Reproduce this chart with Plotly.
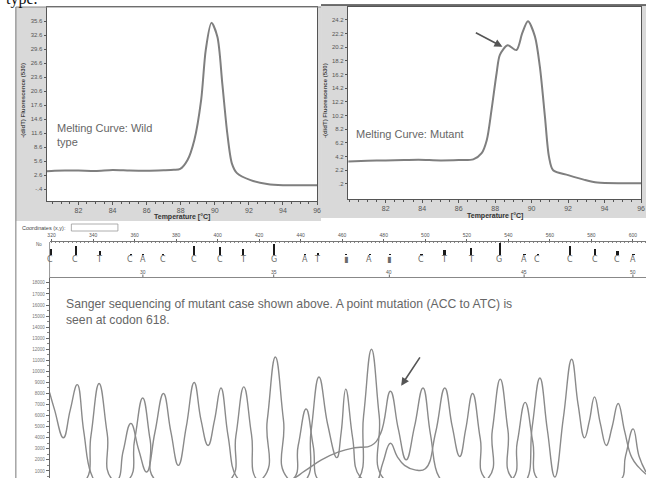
import plotly.graph_objects as go

W, H = 650, 478


def px(x):
    return x / W


def py(y):
    return 1 - y / H


# ---------------- data ----------------
# Melting curve: wild type
wt_temp = [80.13, 80.6, 81.2, 82.0, 83.0, 84.0, 85.0, 86.0, 87.0, 87.6, 87.97, 88.4, 88.8, 89.2,
           89.47, 89.8, 90.15, 90.44, 90.73, 91.0, 91.3, 92.1, 93.07, 94.0, 95.0, 96.0]
wt_fluor = [3.4, 3.5, 3.55, 3.55, 3.45, 3.67, 3.55, 3.5, 3.6, 3.7, 3.9, 5.8, 10.1, 18.7,
            29.4, 35.2, 32.2, 22.2, 11.6, 5.1, 3.0, 1.5, 0.67, 0.4, 0.4, 0.4]
wt_yticks = [-0.4, 2.6, 5.6, 8.6, 11.6, 14.6, 17.6, 20.6, 23.6, 26.6, 29.6, 32.6, 35.6]
wt_yticktext = ["-.4", "2.6", "5.6", "8.6", "11.6", "14.6", "17.6", "20.6", "23.6", "26.6", "29.6", "32.6", "35.6"]

# Melting curve: mutant
mut_temp = [79.95, 81.0, 82.0, 83.0, 83.8, 85.0, 86.0, 86.8, 87.26, 87.54, 87.8, 88.08, 88.26, 88.68,
            89.17, 89.49, 89.8, 90.18, 90.45, 90.73, 90.95, 91.18, 92.0, 92.9, 93.6, 95.0, 96.0]
mut_fluor = [3.5, 3.6, 3.65, 3.7, 3.75, 3.65, 3.7, 3.8, 4.7, 6.6, 11.0, 16.4, 19.1, 20.5,
             19.8, 22.3, 24.0, 21.8, 17.4, 10.05, 4.2, 2.2, 1.5, 0.8, 0.4, 0.3, 0.3]
mut_yticks = [0.2, 2.2, 4.2, 6.2, 8.2, 10.2, 12.2, 14.2, 16.2, 18.2, 20.2, 22.2, 24.2]
mut_yticktext = [".2", "2.2", "4.2", "6.2", "8.2", "10.2", "12.2", "14.2", "16.2", "18.2", "20.2", "22.2", "24.2"]

temp_ticks = [82, 84, 86, 88, 90, 92, 94, 96]

# Sequencing: base calls
base_pos = [319.5, 331.5, 343, 358, 364, 373.6, 388.4, 401, 412, 427, 442, 448, 461.7, 473,
            482.7, 498, 509, 521.8, 535.6, 547.6, 554, 569.5, 581.5, 592.4, 600]
base_call = ["C", "C", "T", "C", "A", "C", "C", "C", "T", "G", "A", "T", "▮", "A",
             "▮", "C", "T", "T", "G", "A", "C", "C", "C", "C", "A"]
base_quality = [7, 10, 5, 2, 2, 2, 10, 9, 7, 12, 2, 2.5, 1.5, 2,
                1.5, 2, 6, 8, 13, 2, 1, 10, 7, 5, 1]
index_pos = [364, 427, 482.7, 547.6, 600]
index_text = ["30", "35", "40", "45", "50"]
ruler_ticks = list(range(320, 601, 20))

# Chromatogram channels (position, signal)
c_pos = [319.05, 321.5, 325.7, 329, 332.4, 335.5, 339, 342, 351, 354.5, 358.2, 362, 365.8, 369.8,
         373.9, 377.5, 381.1, 384.9, 388.7, 392, 395.4, 398.5, 401.6, 405, 409, 413, 425, 435,
         442, 450, 458, 466, 474, 478.5, 483.2, 487, 490.8, 494.8, 498.9, 502.5, 506.5, 510,
         540, 547.8, 551.5, 555.2, 558.8, 562.4, 566.5, 570.5, 573.6, 576.7, 579, 581.5, 584.3,
         587.2, 590, 592.9, 596, 599.5, 603, 606.3]
c_sig = [8100, 6500, 4000, 6500, 8800, 4600, 800, 0, 0, 2800, 5300, 2900, 900, 4500,
         8000, 4500, 1500, 5000, 9000, 5600, 3300, 5600, 8500, 4200, 500, 0, 0, 200,
         1000, 2000, 2700, 3100, 3300, 4400, 8200, 4800, 2000, 5000, 8500, 4300, 500, 0,
         0, 0, 5000, 9400, 4700, 450, 5800, 11100, 7000, 4000, 5500, 7700, 5300,
         3300, 5000, 7100, 4600, 2200, 1300, 700]
t_pos = [319.05, 335.5, 339, 342.9, 346.8, 350.5, 405, 408.8, 412.6, 416.3, 420, 441.5, 445, 448.8,
         453, 457.4, 459.5, 461.7, 465, 468.5, 476, 479.5, 483.2, 486.5, 490, 495, 500, 505,
         509.4, 513, 516.6, 519.5, 522.8, 526.5, 530.5, 606.3]
t_sig = [0, 0, 4200, 8900, 4400, 0, 0, 4200, 8600, 4300, 0, 0, 4600, 9500,
         5200, 2200, 4500, 8400, 4000, 500, 0, 1700, 3500, 2300, 1500, 1100, 1200, 4500,
         8500, 5000, 2300, 4800, 8000, 3900, 0, 0]
a_pos = [319.05, 356, 360, 363.9, 367.5, 371, 435, 438.8, 442.6, 446, 449.5, 466.5, 470.3, 474.1,
         477.8, 481.5, 540.5, 544.3, 548.1, 551.8, 555.5, 593, 596.5, 600.1, 603, 606.3]
a_sig = [0, 0, 3800, 7600, 3800, 0, 0, 3300, 6600, 3300, 0, 0, 6000, 12000,
         6000, 0, 0, 3600, 7200, 3600, 0, 0, 2400, 4800, 2300, 900]
g_pos = [319.05, 420, 423.9, 427.8, 431.7, 435.5, 528.5, 532.3, 536.1, 539.8, 543.5, 606.3]
g_sig = [0, 0, 5600, 11300, 5600, 0, 0, 4700, 9300, 4700, 0, 0]

chrom_yticks = list(range(1000, 18001, 1000))

# ---------------- figure ----------------
fig = go.Figure()

curve_col = "#7f7f7f"
fig.add_trace(go.Scatter(x=wt_temp, y=wt_fluor, mode="lines", line=dict(color=curve_col, width=2, shape="spline", smoothing=0.8),
                         xaxis="x", yaxis="y", showlegend=False, hoverinfo="skip"))
fig.add_trace(go.Scatter(x=mut_temp, y=mut_fluor, mode="lines", line=dict(color=curve_col, width=2, shape="spline", smoothing=0.8),
                         xaxis="x2", yaxis="y2", showlegend=False, hoverinfo="skip"))

chrom_col = "#8a8a8a"
for xs, ys in [(c_pos, c_sig), (t_pos, t_sig), (a_pos, a_sig), (g_pos, g_sig)]:
    fig.add_trace(go.Scatter(x=xs, y=ys, mode="lines", line=dict(color=chrom_col, width=1.4, shape="spline", smoothing=1.3),
                             xaxis="x3", yaxis="y3", showlegend=False, hoverinfo="skip"))

# quality bars
fig.add_trace(go.Bar(x=base_pos, y=base_quality, width=1.1, marker=dict(color="#1a1a1a", line=dict(width=0)),
                     xaxis="x4", yaxis="y4", showlegend=False, hoverinfo="skip"))

tick_font = dict(family="Liberation Sans", size=7, color="#555")
axis_line = "#555"

shapes = [
    dict(type="rect", xref="paper", yref="paper", x0=px(14), x1=px(322), y0=py(221), y1=py(7),
         fillcolor="#d9d9d9", line=dict(width=0), layer="below"),
    dict(type="rect", xref="paper", yref="paper", x0=px(322), x1=px(650), y0=py(218), y1=py(5),
         fillcolor="#d9d9d9", line=dict(width=0), layer="below"),
    dict(type="rect", xref="paper", yref="paper", x0=px(45), x1=px(318), y0=py(201), y1=py(7),
         fillcolor="white", line=dict(width=0), layer="below"),
    dict(type="rect", xref="paper", yref="paper", x0=px(349), x1=px(645), y0=py(199), y1=py(7),
         fillcolor="white", line=dict(width=0), layer="below"),
    dict(type="line", xref="paper", yref="paper", x0=px(14), x1=px(14), y0=0, y1=py(7),
         line=dict(color="#777", width=1)),
    dict(type="line", xref="paper", yref="paper", x0=px(14), x1=px(322), y0=py(7), y1=py(7),
         line=dict(color="#888", width=1)),
    dict(type="line", xref="paper", yref="paper", x0=px(322), x1=px(650), y0=py(5), y1=py(5),
         line=dict(color="#444", width=1.5)),
    dict(type="rect", xref="paper", yref="paper", x0=px(70), x1=px(117), y0=py(231), y1=py(224),
         fillcolor="white", line=dict(color="#999", width=0.8)),
    dict(type="line", xref="paper", yref="paper", x0=px(48), x1=px(48), y0=py(278), y1=py(242),
         line=dict(color="#999", width=1)),
]

annotations = [
    dict(text="type.", xref="paper", yref="paper", x=px(2), y=py(10), xanchor="left", yanchor="bottom",
         showarrow=False, font=dict(family="Liberation Serif", size=16, color="#111")),
    dict(text="Melting Curve: Wild<br>type", xref="paper", yref="paper", x=px(53), y=py(120), xanchor="left",
         yanchor="top", align="left", showarrow=False, font=dict(family="Liberation Sans", size=11, color="#666")),
    dict(text="Melting Curve: Mutant", xref="paper", yref="paper", x=px(355), y=py(134), xanchor="left",
         yanchor="middle", showarrow=False, font=dict(family="Liberation Sans", size=11, color="#666")),
    dict(text="<b>Temperature [°C]</b>", xref="paper", yref="paper", x=px(182), y=py(216.5), xanchor="center",
         yanchor="middle", showarrow=False, font=dict(family="Liberation Sans", size=7, color="#333")),
    dict(text="<b>Temperature [°C]</b>", xref="paper", yref="paper", x=px(498), y=py(215.5), xanchor="center",
         yanchor="middle", showarrow=False, font=dict(family="Liberation Sans", size=7, color="#333")),
    dict(text="<b>-(d/dT) Fluorescence (530)</b>", xref="paper", yref="paper", x=px(21), y=py(100), textangle=-90,
         xanchor="center", yanchor="middle", showarrow=False, font=dict(family="Liberation Sans", size=6, color="#444")),
    dict(text="<b>-(d/dT) Fluorescence (530)</b>", xref="paper", yref="paper", x=px(326), y=py(100), textangle=-90,
         xanchor="center", yanchor="middle", showarrow=False, font=dict(family="Liberation Sans", size=6, color="#444")),
    dict(text="Coordinates (x,y):", xref="paper", yref="paper", x=px(18), y=py(227.5), xanchor="left",
         yanchor="middle", showarrow=False, font=dict(family="Liberation Sans", size=5.5, color="#444")),
    dict(text="No", xref="paper", yref="paper", x=px(37), y=py(244), xanchor="center",
         yanchor="middle", showarrow=False, font=dict(family="Liberation Sans", size=4.5, color="#555")),
    dict(text="Sanger sequencing of mutant case shown above. A point mutation (ACC to ATC) is<br>seen at codon 618.",
         xref="paper", yref="paper", x=px(63), y=py(295), xanchor="left", yanchor="top", align="left",
         showarrow=False, font=dict(family="Liberation Sans", size=12.2, color="#666")),
    dict(text="", xref="x2", yref="y2", x=88.4, y=20.3, ax=86.86, ay=22.44, axref="x2", ayref="y2",
         showarrow=True, arrowhead=2, arrowsize=1, arrowwidth=1.6, arrowcolor="#555"),
    dict(text="", xref="x3", yref="y3", x=488.4, y=8700, ax=497.9, ay=11400, axref="x3", ayref="y3",
         showarrow=True, arrowhead=2, arrowsize=1, arrowwidth=1.6, arrowcolor="#555"),
]

# base letters under the quality bars
for pos, letter in zip(base_pos, base_call):
    annotations.append(dict(text=letter, xref="x4", yref="paper", x=pos, y=py(259.5), xanchor="center",
                            yanchor="middle", showarrow=False,
                            font=dict(family="DejaVu Sans", size=8, color="#6a6a6a")))
# base index numbers with tick marks
for pos, lab in zip(index_pos, index_text):
    annotations.append(dict(text=lab, xref="x4", yref="paper", x=pos, y=py(272), xanchor="center",
                            yanchor="middle", showarrow=False,
                            font=dict(family="Liberation Sans", size=5, color="#555")))
    shapes.append(dict(type="line", xref="x4", yref="paper", x0=pos, x1=pos, y0=py(277), y1=py(274.5),
                       line=dict(color="#666", width=1)))

fig.update_layout(
    width=W, height=478, margin=dict(l=0, r=0, t=0, b=0),
    paper_bgcolor="white", plot_bgcolor="rgba(0,0,0,0)",
    showlegend=False, bargap=0,
    shapes=shapes, annotations=annotations,
    xaxis=dict(domain=[px(45), px(318)], range=[80.13, 96], anchor="y", tickvals=temp_ticks,
               ticks="outside", ticklen=3, tickcolor=axis_line, tickfont=tick_font,
               showline=True, linecolor=axis_line, mirror=True, showgrid=False, zeroline=False,
               minor=dict(dtick=0.5, ticks="outside", ticklen=2, tickcolor=axis_line)),
    yaxis=dict(domain=[py(201), py(7)], range=[-2.97, 38.6], anchor="x", tickvals=wt_yticks, ticktext=wt_yticktext,
               ticks="outside", ticklen=2, tickcolor=axis_line, tickfont=dict(family="Liberation Sans", size=6, color="#555"),
               showline=True, linecolor=axis_line, mirror=True, showgrid=False, zeroline=False),
    xaxis2=dict(domain=[px(349), px(645)], range=[79.92, 96], anchor="y2", tickvals=temp_ticks,
                ticks="outside", ticklen=3, tickcolor=axis_line, tickfont=tick_font,
                showline=True, linecolor=axis_line, mirror=True, showgrid=False, zeroline=False,
                minor=dict(dtick=0.5, ticks="outside", ticklen=2, tickcolor=axis_line)),
    yaxis2=dict(domain=[py(199), py(7)], range=[-2.0, 26.1], anchor="x2", tickvals=mut_yticks, ticktext=mut_yticktext,
                ticks="outside", ticklen=2, tickcolor=axis_line, tickfont=dict(family="Liberation Sans", size=6, color="#555"),
                showline=True, linecolor=axis_line, mirror=True, showgrid=False, zeroline=False),
    xaxis3=dict(domain=[px(48), 1], range=[319.05, 606.3], anchor="y3", side="top", showticklabels=False,
                ticks="", showline=True, linecolor="#888", showgrid=False, zeroline=False),
    yaxis3=dict(domain=[0, py(278)], range=[362, 18445], anchor="x3", tickvals=chrom_yticks, tickformat="d",
                ticks="outside", ticklen=3, tickcolor="#666",
                tickfont=dict(family="Liberation Sans", size=4.5, color="#777"),
                showline=True, linecolor="#666", showgrid=False, zeroline=False,
                minor=dict(dtick=500, ticks="outside", ticklen=2, tickcolor="#888")),
    xaxis4=dict(domain=[px(48), 1], range=[319.05, 606.3], anchor="y4", side="top", tickvals=ruler_ticks,
                ticks="outside", ticklen=2, tickcolor="#666",
                tickfont=dict(family="Liberation Sans", size=5, color="#555"),
                showline=True, linecolor="#777", linewidth=1, showgrid=False, zeroline=False,
                minor=dict(dtick=2, ticks="inside", ticklen=1.5, tickcolor="#888")),
    yaxis4=dict(domain=[py(255), py(241.5)], range=[0, 13.5], anchor="x4", visible=False),
)

fig.write_html("out.html", config={"displayModeBar": False},
               post_script="document.body.style.margin='0';")
